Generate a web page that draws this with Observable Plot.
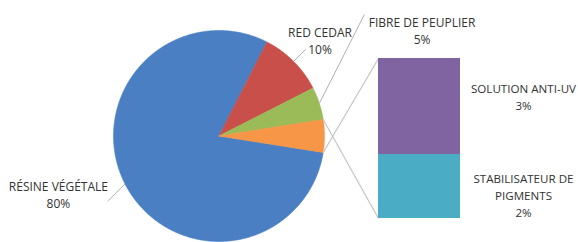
<!DOCTYPE html>
<html><head><meta charset="utf-8">
<script src="https://cdn.jsdelivr.net/npm/d3@7"></script>
<script src="https://cdn.jsdelivr.net/npm/@observablehq/plot@0.6"></script>
<style>body{margin:0;background:#fff}#chart{width:578px;height:242px}</style>
</head><body><div id="chart"></div>
<script>
// ---- data ----
const pieNames = ["RÉSINE VÉGÉTALE", "RED CEDAR", "FIBRE DE PEUPLIER"];
const pieValues = [80, 10, 5];
const barNames = ["SOLUTION ANTI-UV", "STABILISATEUR DE\nPIGMENTS"];
const barValues = [3, 2];
const otherName = "AUTRES";

// ---- styles ----
const pieColors = ["#4a7fc3", "#c9504a", "#9bbb59"];
const otherColor = "#f79646";
const barColors = ["#8064a2", "#4bacc6"];

// ---- layout (pie radius = 1 unit) ----
const W = 578, H = 242, R = 105.5, cxPx = 218.5, cyPx = 135.5;
const px = v => v / R;
const barX1 = px(378 - cxPx), barX2 = px(460 - cxPx);
const barTop = px(cyPx - 58), barHeight = px(160);
const barLabelX = px(523 - cxPx);
const barLabelDy = [-10, 8];
// label placement per pie slice: [radius, angle offset (deg)], leader end [radius, angle offset]
const pieLabelPlace = [[1.62, -7], [1.32, -1.5], [2.17, 9.5]];
const pieLeaderEnd = [[1.225, 3.4], [1.16, 0], [1.797, 21.9]];

// ---- computed ----
const otherValue = d3.sum(barValues);
const allNames = [...pieNames, otherName];
const allValues = [...pieValues, otherValue];
const total = d3.sum(allValues);
const otherHalf = otherValue / total * Math.PI; // center "other" slice at 3 o'clock
const arcs = d3.pie().sort(null).value(d => d)
  .startAngle(Math.PI / 2 + otherHalf).endAngle(Math.PI / 2 + otherHalf + 2 * Math.PI)(allValues);
const polar = (r, a) => [r * Math.sin(a), r * Math.cos(a)];

const slicePts = [];
arcs.forEach((a, i) => {
  const name = allNames[i];
  slicePts.push({name, x: 0, y: 0});
  const n = Math.max(2, Math.ceil((a.endAngle - a.startAngle) / (Math.PI / 360)));
  for (let k = 0; k <= n; k++) {
    const t = a.startAngle + (a.endAngle - a.startAngle) * k / n;
    const [x, y] = polar(1, t);
    slicePts.push({name, x, y});
  }
  slicePts.push({name, x: 0, y: 0});
});

const deg = Math.PI / 180;
const pieLabels = pieNames.map((name, i) => {
  const mid = (arcs[i].startAngle + arcs[i].endAngle) / 2;
  const [lr, lo] = pieLabelPlace[i];
  const [er, eo] = pieLeaderEnd[i];
  const la = mid - lo * deg, ea = mid - eo * deg;
  const [lx, ly] = polar(lr, la);
  const [sx, sy] = polar(1, mid);
  const [ex, ey] = polar(er, ea);
  return {text: name + "\n" + pieValues[i] + "%", x: lx, y: ly, sx, sy, ex, ey};
});

let acc = 0;
const k = barHeight / otherValue;
const barSegs = barNames.map((name, i) => {
  const y1 = barTop - acc * k;
  acc += barValues[i];
  const y2 = barTop - acc * k;
  return {name, y1, y2, label: name + "\n" + barValues[i] + "%", ly: (y1 + y2) / 2 - barLabelDy[i] / R};
});

const oa = arcs[3];
const [ox1, oy1] = polar(1, oa.startAngle);
const [ox2, oy2] = polar(1, oa.endAngle);
const connectors = [
  {x1: ox2, y1: oy2, x2: barX1, y2: barTop},
  {x1: ox1, y1: oy1, x2: barX1, y2: barTop - barHeight}
];

const chart = Plot.plot({
  width: W, height: H,
  margin: 0,
  x: {domain: [px(-cxPx), px(W - cxPx)], axis: null},
  y: {domain: [px(cyPx - H), px(cyPx)], axis: null},
  color: {domain: [...allNames, ...barNames], range: [...pieColors, otherColor, ...barColors]},
  style: {fontFamily: "'Open Sans', sans-serif", fontSize: "12px", background: "#fff"},
  marks: [
    Plot.line(slicePts, {x: "x", y: "y", z: "name", fill: "name", stroke: "name", strokeWidth: 0.6}),
    Plot.link(connectors, {x1: "x1", y1: "y1", x2: "x2", y2: "y2", stroke: "#c4c4c4", strokeWidth: 1.2}),
    Plot.rect(barSegs, {x1: barX1, x2: barX2, y1: "y1", y2: "y2", fill: "name"}),
    Plot.link(pieLabels, {x1: "sx", y1: "sy", x2: "ex", y2: "ey", stroke: "#b0b0b0", strokeWidth: 1}),
    Plot.text(pieLabels, {x: "x", y: "y", text: "text", fill: "#333333", fontSize: 12, lineHeight: 1.42}),
    Plot.text(barSegs, {x: barLabelX, y: "ly", text: "label", fill: "#333333", fontSize: 11.6, lineHeight: 1.47})
  ]
});
document.getElementById("chart").append(chart);
</script>
</body></html>
